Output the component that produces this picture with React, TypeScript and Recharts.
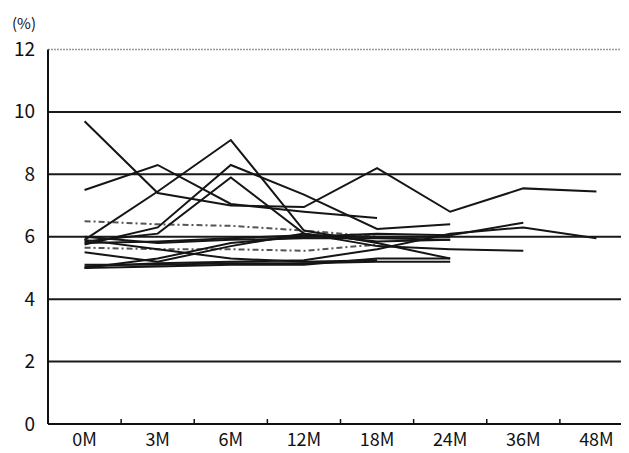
import React from 'react';
import { ComposedChart, Line, XAxis, YAxis, ReferenceLine } from 'recharts';

const categories = ['0M', '3M', '6M', '12M', '18M', '24M', '36M', '48M'];
const yTicks = [0, 2, 4, 6, 8, 10, 12];
const gridValues = [2, 4, 6, 8, 10];

type V = number | null;
const sA: V[] = [9.7, 7.4, 7.0, 6.95, 8.2, 6.8, 7.55, 7.45];
const sB: V[] = [7.5, 8.3, 7.05, 6.8, 6.6, null, null, null];
const sC: V[] = [5.9, 7.45, 9.1, 6.2, 5.8, 5.3, null, null];
const sD: V[] = [5.75, 6.3, 8.3, 7.35, 6.25, 6.4, null, null];
const sE: V[] = [5.85, 6.1, 7.9, 6.1, 5.85, 5.9, null, null];
const sF: V[] = [5.5, 5.2, 5.7, 6.1, 5.7, 5.6, 5.55, null];
const sG: V[] = [5.0, 5.3, 5.8, 6.0, 6.1, 6.05, 6.45, null];
const sH: V[] = [5.05, 5.15, 5.2, 5.25, 5.6, 6.1, 6.3, 5.95];
const sI: V[] = [5.1, 5.1, 5.15, 5.15, 5.2, 5.2, null, null];
const sJ: V[] = [5.0, 5.05, 5.1, 5.1, 5.3, 5.3, null, null];
const sK: V[] = [5.9, 5.6, 5.3, 5.2, 5.25, null, null, null];
const sL: V[] = [6.0, 5.8, 5.9, 5.95, 5.95, 5.9, null, null];
const sM: V[] = [5.8, 5.85, 5.95, 6.05, 6.0, 6.0, null, null];
const sDash1: V[] = [6.5, 6.4, 6.35, 6.2, 6.0, null, null, null];
const sDash2: V[] = [5.65, 5.6, 5.6, 5.55, 5.75, null, null, null];

const solidSeries: { key: string; values: V[] }[] = [
  { key: 'a', values: sA },
  { key: 'b', values: sB },
  { key: 'c', values: sC },
  { key: 'd', values: sD },
  { key: 'e', values: sE },
  { key: 'f', values: sF },
  { key: 'g', values: sG },
  { key: 'h', values: sH },
  { key: 'i', values: sI },
  { key: 'j', values: sJ },
  { key: 'k', values: sK },
  { key: 'l', values: sL },
  { key: 'm', values: sM },
];
const dashedSeries: { key: string; values: V[] }[] = [
  { key: 'p', values: sDash1 },
  { key: 'q', values: sDash2 },
];

const data = categories.map((c, i) => {
  const row: Record<string, any> = { cat: c };
  [...solidSeries, ...dashedSeries].forEach((s) => {
    row[s.key] = s.values[i];
  });
  return row;
});

const W = 625;
const H = 445;
const Y_AXIS_W = 40;
const BAND = (W - Y_AXIS_W) / categories.length;
const FONT = '"Noto Sans CJK JP", "Noto Sans", sans-serif';

const XTick = (props: any) => {
  const { x, y, payload, index } = props;
  return (
    <g>
      {index < categories.length - 1 && (
        <line x1={x + BAND / 2} x2={x + BAND / 2} y1={y} y2={y - 5} stroke="#111" strokeWidth={1.5} />
      )}
      <text x={x} y={y + 22} textAnchor="middle" fontSize={18} fontFamily={FONT} fill="#111">
        {payload.value}
      </text>
    </g>
  );
};

const YTick = (props: any) => {
  const { x, y, payload } = props;
  return (
    <text x={x - 13} y={y + 6.5} textAnchor="end" fontSize={19} fontFamily={FONT} fill="#111">
      {payload.value}
    </text>
  );
};

export default function App() {
  return (
    <ComposedChart width={W} height={H} data={data} margin={{ top: 41.5, right: 0, bottom: 0, left: 0 }}>
      {gridValues.map((g) => (
        <ReferenceLine key={g} y={g} stroke="#1a1a1a" strokeWidth={2} />
      ))}
      <ReferenceLine y={12} stroke="#999" strokeWidth={1.5} strokeDasharray="2 1" />
      <XAxis
        dataKey="cat"
        height={29}
        scale="point"
        padding={{ left: BAND / 2, right: BAND / 2 }}
        tickSize={0}
        tickMargin={0}
        tick={<XTick />}
        axisLine={{ stroke: '#111', strokeWidth: 2 }}
        interval={0}
      />
      <YAxis
        width={Y_AXIS_W}
        domain={[0, 12]}
        ticks={yTicks}
        tickSize={0}
        tickMargin={0}
        tick={<YTick />}
        axisLine={{ stroke: '#111', strokeWidth: 2 }}
        label={(p: any) => (
          <text x={4} y={21} fontSize={15} fontFamily={FONT} fill="#111">
            (%)
          </text>
        )}
      />
      {dashedSeries.map((s) => (
        <Line
          key={s.key}
          dataKey={s.key}
          stroke="#555"
          strokeWidth={2}
          strokeDasharray="6 3 2 3"
          dot={false}
          activeDot={false}
          isAnimationActive={false}
          connectNulls={false}
        />
      ))}
      {solidSeries.map((s) => (
        <Line
          key={s.key}
          dataKey={s.key}
          stroke="#151515"
          strokeWidth={2}
          dot={false}
          activeDot={false}
          isAnimationActive={false}
          connectNulls={false}
        />
      ))}
    </ComposedChart>
  );
}
